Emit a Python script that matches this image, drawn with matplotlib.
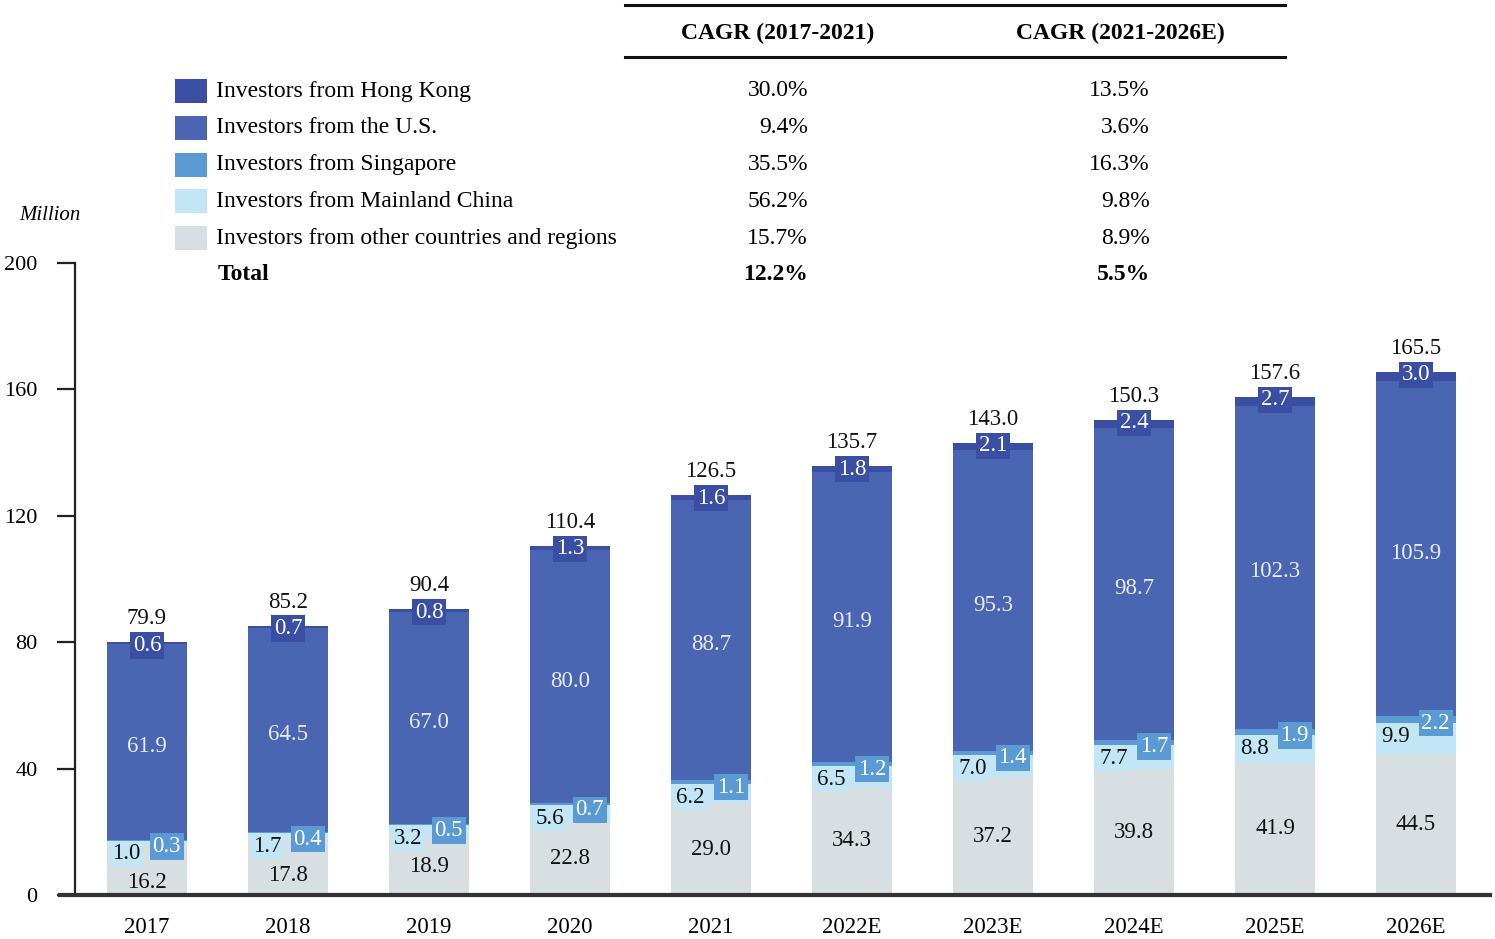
import matplotlib.pyplot as plt
from matplotlib.patches import Rectangle
from matplotlib.lines import Line2D

years = ['2017', '2018', '2019', '2020', '2021', '2022E', '2023E', '2024E', '2025E', '2026E']
other = [16.2, 17.8, 18.9, 22.8, 29.0, 34.3, 37.2, 39.8, 41.9, 44.5]
mainland = [1.0, 1.7, 3.2, 5.6, 6.2, 6.5, 7.0, 7.7, 8.8, 9.9]
singapore = [0.3, 0.4, 0.5, 0.7, 1.1, 1.2, 1.4, 1.7, 1.9, 2.2]
us = [61.9, 64.5, 67.0, 80.0, 88.7, 91.9, 95.3, 98.7, 102.3, 105.9]
hk = [0.6, 0.7, 0.8, 1.3, 1.6, 1.8, 2.1, 2.4, 2.7, 3.0]
totals = [79.9, 85.2, 90.4, 110.4, 126.5, 135.7, 143.0, 150.3, 157.6, 165.5]

legend_names = ['Investors from Hong Kong', 'Investors from the U.S.', 'Investors from Singapore',
                'Investors from Mainland China', 'Investors from other countries and regions']
cagr_1 = ['30.0%', '9.4%', '35.5%', '56.2%', '15.7%', '12.2%']
cagr_2 = ['13.5%', '3.6%', '16.3%', '9.8%', '8.9%', '5.5%']

c_hk = '#3a4ea3'
c_us = '#4a65b1'
c_sg = '#5b9bd5'
c_cn = '#c3e6f7'
c_ot = '#d7dfe2'

plt.rcParams['font.family'] = ['Liberation Serif', 'DejaVu Serif']

W, H = 1495, 939
fig = plt.figure(figsize=(W / 100, H / 100), dpi=100)
ax = fig.add_axes([60 / W, 1 - 895 / H, (1490 - 60) / W, (895 - 263) / H])

x = list(range(len(years)))
bw = 0.567
b1 = other
b2 = [a + b for a, b in zip(b1, mainland)]
b3 = [a + b for a, b in zip(b2, singapore)]
b4 = [a + b for a, b in zip(b3, us)]

ax.bar(x, other, bw, color=c_ot, zorder=2)
ax.bar(x, mainland, bw, bottom=b1, color=c_cn, zorder=2)
ax.bar(x, singapore, bw, bottom=b2, color=c_sg, zorder=2)
ax.bar(x, us, bw, bottom=b3, color=c_us, zorder=2)
ax.bar(x, hk, bw, bottom=b4, color=c_hk, zorder=2)

fs = 16.5
for i in x:
    # totals
    ax.text(i, totals[i] + 7.5, f'{totals[i]:.1f}', ha='center', va='center', fontsize=fs, color='#111111')
    # hong kong
    ax.text(i, totals[i] - 0.9, f'{hk[i]:.1f}', ha='center', va='center', fontsize=fs, color='white',
            bbox=dict(boxstyle='square,pad=0.12', fc=c_hk, ec='none'), zorder=4)
    # us
    ax.text(i, (b3[i] + b4[i]) / 2 - 1.5, f'{us[i]:.1f}', ha='center', va='center', fontsize=fs, color='#e8ecf6')
    # mainland / singapore
    y_cn = b2[i] - 4.2
    y_sg = b3[i] - 2.2
    ax.text(i - 0.145, y_cn, f'{mainland[i]:.1f}', ha='center', va='center', fontsize=fs, color='#111111',
            bbox=dict(boxstyle='square,pad=0.1', fc=c_cn, ec='none'), zorder=4)
    ax.text(i + 0.14, y_sg, f'{singapore[i]:.1f}', ha='center', va='center', fontsize=fs, color='white',
            bbox=dict(boxstyle='square,pad=0.12', fc=c_sg, ec='none'), zorder=5)
    # other
    y_ot = min(other[i] / 2, y_cn - 9)
    ax.text(i, y_ot, f'{other[i]:.1f}', ha='center', va='center', fontsize=fs, color='#111111', zorder=4)

ax.set_xlim((60 - 147) / 141, (1490 - 147) / 141)
ax.set_ylim(0, 200)
ax.set_xticks(x)
ax.set_xticklabels(years)
ax.set_yticks([0, 40, 80, 120, 160, 200])
ax.tick_params(axis='x', length=0, pad=16, labelsize=fs)
ax.tick_params(axis='y', length=13, width=1.6, pad=14, color='#222222', labelsize=16)
for lab in ax.get_yticklabels():
    lab.set_family('Liberation Sans')
for s in ['top', 'right']:
    ax.spines[s].set_visible(False)
ax.spines['left'].set_position(('data', (75 - 147) / 141))
ax.spines['left'].set_linewidth(1.6)
ax.spines['left'].set_color('#222222')
ax.spines['bottom'].set_linewidth(3)
ax.spines['bottom'].set_color('#333333')
ax.spines['bottom'].set_zorder(5)

fig.text(50 / W, 1 - 215 / H, 'Million', ha='center', va='center', fontsize=15, style='italic')

# CAGR table
lfs = 17
fig.add_artist(Line2D([625 / W, 1285 / W], [1 - 5 / H] * 2, color='#111111', lw=2.2))
fig.add_artist(Line2D([625 / W, 1285 / W], [1 - 57 / H] * 2, color='#111111', lw=2.2))
fig.text(778 / W, 1 - 33 / H, 'CAGR (2017-2021)', ha='center', va='center', fontsize=lfs, weight='bold')
fig.text(1120 / W, 1 - 33 / H, 'CAGR (2021-2026E)', ha='center', va='center', fontsize=lfs, weight='bold')

row_colors = [c_hk, c_us, c_sg, c_cn, c_ot]
for k in range(6):
    yc = 1 - (91 + k * 36.8) / H
    if k < 5:
        fig.add_artist(Rectangle((175 / W, yc - 12 / H), 32 / W, 24 / H, transform=fig.transFigure,
                                 fc=row_colors[k], ec='none'))
        fig.text(216 / W, yc, legend_names[k], ha='left', va='center', fontsize=lfs)
        wt = 'normal'
    else:
        fig.text(218 / W, yc, 'Total', ha='left', va='center', fontsize=lfs, weight='bold')
        wt = 'bold'
    fig.text(808 / W, yc, cagr_1[k], ha='right', va='center', fontsize=lfs, weight=wt)
    fig.text(1150 / W, yc, cagr_2[k], ha='right', va='center', fontsize=lfs, weight=wt)

fig.savefig('out.png', dpi=100)
